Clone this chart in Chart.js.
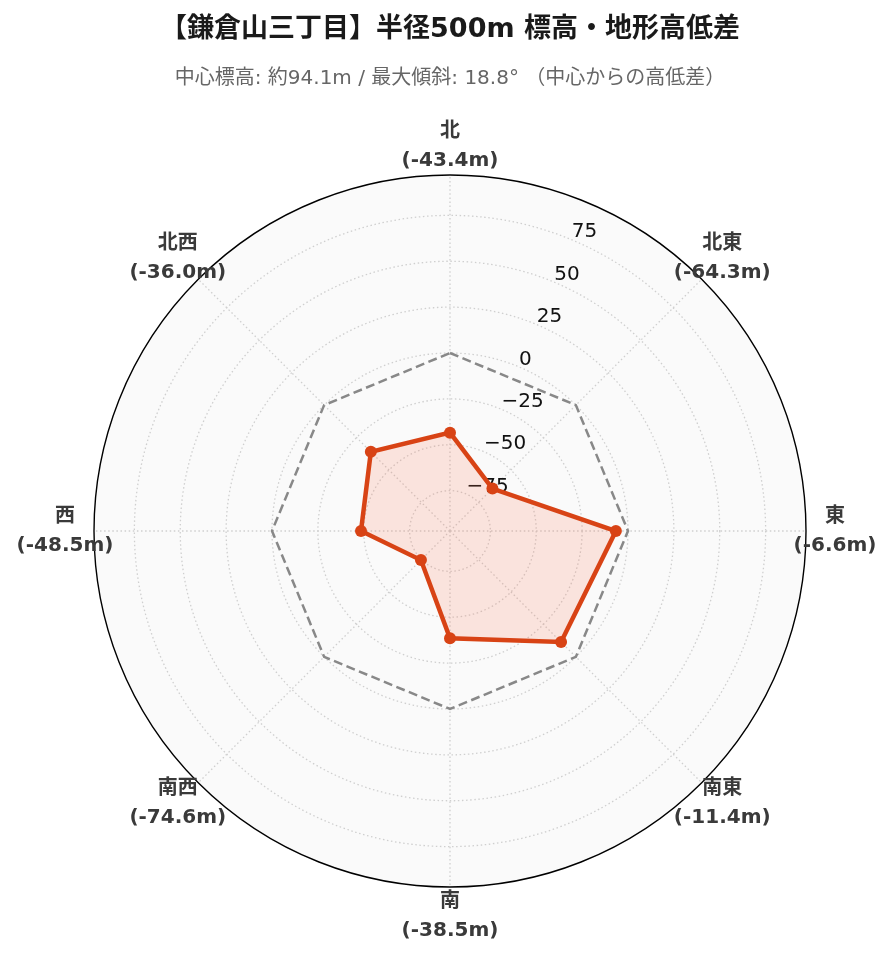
<!DOCTYPE html>
<html>
<head>
<meta charset="utf-8">
<script src="https://cdn.jsdelivr.net/npm/chart.js@4/dist/chart.umd.min.js"></script>
<style>
  html, body { margin: 0; padding: 0; background: #ffffff; }
  #wrap { width: 892px; height: 962px; position: relative; }
</style>
</head>
<body>
<div id="wrap"><canvas id="c" width="892" height="962"></canvas></div>
<script>
// ---- data ----
const directions = ['北', '北東', '東', '南東', '南', '南西', '西', '北西'];
const elevationDiff = [-43.4, -64.3, -6.6, -11.4, -38.5, -74.6, -48.5, -36.0];
const referenceLine = [0, 0, 0, 0, 0, 0, 0, 0];
const tickValues = [-75, -50, -25, 0, 25, 50, 75];
const rMin = -97;
const rMax = 97;
const titleText = '【鎌倉山三丁目】半径500m 標高・地形高低差';
const subtitleText = '中心標高: 約94.1m / 最大傾斜: 18.8° （中心からの高低差）';

const FONT = '"DejaVu Sans", "Noto Sans CJK JP", sans-serif';

const overlay = {
  id: 'overlay',
  beforeDatasetsDraw(chart) {
    const s = chart.scales.r;
    const ctx = chart.ctx;
    ctx.save();
    ctx.font = '20px ' + FONT;
    ctx.fillStyle = '#111111';
    ctx.textAlign = 'left';
    ctx.textBaseline = 'alphabetic';
    tickValues.forEach(v => {
      const p = s.getPointPosition(0.5, s.getDistanceFromCenterForValue(v));
      const txt = v < 0 ? '\u2212' + Math.abs(v) : String(v);
      ctx.fillText(txt, p.x + 1, p.y - 2);
    });
    ctx.restore();
  },
  afterDraw(chart) {
    const s = chart.scales.r;
    const ctx = chart.ctx;
    ctx.save();
    // outer frame circle
    ctx.beginPath();
    ctx.arc(s.xCenter, s.yCenter, s.getDistanceFromCenterForValue(rMax), 0, Math.PI * 2);
    ctx.strokeStyle = '#000000';
    ctx.lineWidth = 1.4;
    ctx.stroke();
    // direction labels
    ctx.font = 'bold 20px ' + FONT;
    ctx.fillStyle = '#3a3a3a';
    ctx.textAlign = 'center';
    ctx.textBaseline = 'middle';
    directions.forEach((d, i) => {
      const p = s.getPointPosition(i, s.drawingArea + 29);
      ctx.fillText(d, p.x, p.y - 14.5);
      ctx.fillText('(' + elevationDiff[i].toFixed(1) + 'm)', p.x, p.y + 14.5);
    });
    ctx.restore();
  }
};

new Chart(document.getElementById('c'), {
  type: 'radar',
  data: {
    labels: directions,
    datasets: [
      {
        label: '高低差',
        data: elevationDiff,
        borderColor: '#d84315',
        backgroundColor: 'rgba(248, 110, 80, 0.17)',
        borderWidth: 4.5,
        pointRadius: 6,
        pointBackgroundColor: '#d84315',
        pointBorderColor: '#d84315',
        pointBorderWidth: 0,
        fill: 'start',
        order: 0
      },
      {
        label: '基準',
        data: referenceLine,
        borderColor: '#888888',
        borderWidth: 2.5,
        borderDash: [9, 4.5],
        pointRadius: 0,
        fill: false,
        order: 1
      }
    ]
  },
  options: {
    responsive: false,
    animation: false,
    devicePixelRatio: 1,
    layout: { padding: { left: 94, right: 86, top: 0, bottom: 75 } },
    plugins: {
      legend: { display: false },
      tooltip: { enabled: false },
      filler: { propagate: false },
      title: {
        display: true,
        text: titleText,
        color: '#1a1a1a',
        font: { family: FONT, size: 27, weight: 'bold' },
        padding: { top: 14, bottom: 0 }
      },
      subtitle: {
        display: true,
        text: subtitleText,
        color: '#666666',
        font: { family: FONT, size: 20, weight: 'normal' },
        padding: { top: 20.6, bottom: 84 }
      }
    },
    elements: { line: { tension: 0 } },
    scales: {
      r: {
        min: rMin,
        max: rMax,
        startAngle: 0,
        backgroundColor: '#fafafa',
        afterBuildTicks: (scale) => {
          scale.ticks = [rMin].concat(tickValues, [rMax]).map(v => ({ value: v }));
        },
        ticks: { display: false },
        pointLabels: { display: false },
        grid: {
          circular: true,
          color: (c) => (c.tick && c.tick.value === rMax) ? 'rgba(0,0,0,0)' : '#cfcfcf',
          lineWidth: 1.3
        },
        border: { dash: [1.5, 2.6] },
        angleLines: {
          display: true,
          color: '#cfcfcf',
          lineWidth: 1.3,
          borderDash: [1.5, 2.6]
        }
      }
    }
  },
  plugins: [overlay]
});
</script>
</body>
</html>
